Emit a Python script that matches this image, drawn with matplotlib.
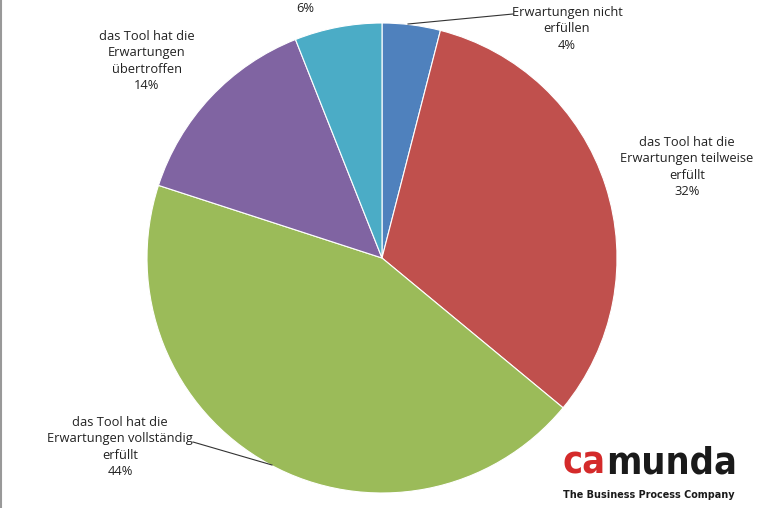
import matplotlib.pyplot as plt
from matplotlib.lines import Line2D

# Anteile im Uhrzeigersinn ab 12 Uhr
werte = [4, 32, 44, 14, 6]
farben = ['#4F81BD', '#C0504D', '#9BBB59', '#8064A2', '#4BACC6']
labels = [
    'Erwartungen nicht\nerfüllen\n4%',
    'das Tool hat die\nErwartungen teilweise\nerfüllt\n32%',
    'das Tool hat die\nErwartungen vollständig\nerfüllt\n44%',
    'das Tool hat die\nErwartungen\nübertroffen\n14%',
    '6%',
]
# Label-Mitten in Pixeln (von oben gemessen)
label_pos = [(567, 29), (687, 167), (120, 447), (147, 61), (305, 8)]

W, H = 762, 508
fig = plt.figure(figsize=(W / 100, H / 100), dpi=100)
ax = fig.add_axes([0, 0, 1, 1])

ax.pie(werte, colors=farben, startangle=90, counterclock=False,
       center=(382, H - 258), radius=235,
       wedgeprops=dict(edgecolor='white', linewidth=0.8))
ax.set_xlim(0, W)
ax.set_ylim(0, H)
ax.set_aspect('equal')
ax.axis('off')

font = 'Open Sans'
for txt, (x, y) in zip(labels, label_pos):
    ax.text(x, H - y, txt, ha='center', va='center', fontsize=9.3,
            family=font, color='#222222', linespacing=1.35)

# Führungslinien
ax.add_line(Line2D([408, 513], [H - 24, H - 14], color='#333333', lw=0.8))
ax.add_line(Line2D([193, 272], [H - 442, H - 465], color='#333333', lw=0.8))

# linker Rand
ax.add_line(Line2D([1, 1], [0, H], color='#999999', lw=1.5))

# Logo: Schriftgröße so wählen, dass die Breite passt
renderer = fig.canvas.get_renderer()


def fit(t, width):
    w = t.get_window_extent(renderer).width
    t.set_fontsize(t.get_fontsize() * width / w)


logo_font = dict(family='DejaVu Sans', fontweight='bold', fontstretch='condensed')
t_ca = ax.text(563, H - 473, 'ca', ha='left', va='baseline', fontsize=30,
               color='#D42A2A', **logo_font)
t_all = ax.text(563, H - 473, 'camunda', ha='left', va='baseline', fontsize=30,
                color='#1A1A1A', alpha=0, **logo_font)
fit(t_all, 174)
t_ca.set_fontsize(t_all.get_fontsize())
w_ca = t_ca.get_window_extent(renderer).width
ax.text(563 + w_ca, H - 473, 'munda', ha='left', va='baseline',
        fontsize=t_all.get_fontsize(), color='#1A1A1A', **logo_font)
t_all.remove()

t_sub = ax.text(563, H - 498, 'The Business Process Company', ha='left',
                va='baseline', fontsize=10, color='#1A1A1A', **logo_font)
fit(t_sub, 172)

fig.savefig('out.png', dpi=100)
